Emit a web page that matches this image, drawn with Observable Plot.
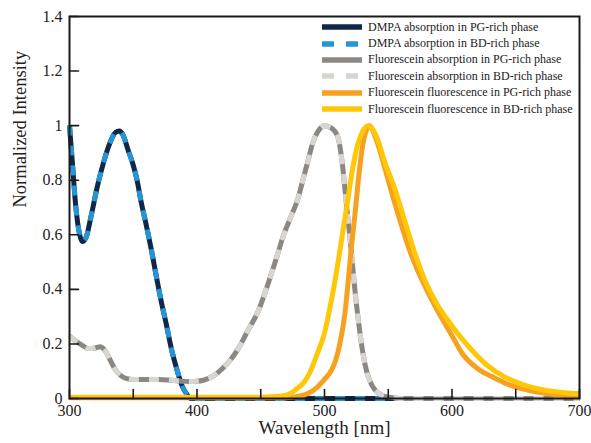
<!DOCTYPE html>
<html>
<head>
<meta charset="utf-8">
<script src="https://cdn.jsdelivr.net/npm/d3@7"></script>
<script src="https://cdn.jsdelivr.net/npm/@observablehq/plot@0.6"></script>
<style>
  html, body { margin: 0; padding: 0; background: #fff; }
  #wrap { position: relative; width: 591px; height: 443px; font-family: "Liberation Serif", "Times New Roman", serif; }
  #legend { position: absolute; left: 322px; top: 19px; font-size: 12px; color: #222; }
  .row { display: flex; align-items: center; height: 16.4px; white-space: nowrap; }
  .row svg { width: 40px; height: 8px; margin-right: 6px; }
</style>
</head>
<body>
<div id="wrap"><div id="legend"></div></div>
<script>
// ---- data ----
const dmpaWl  = [300,302,305,308,310,313,317,322,327,332,336,339,342,346,350,353,356,360,364,368,372,376,380,384,388,392,395,400,450,500,550,600,650,700];
const dmpaPG  = [1.00,0.88,0.70,0.60,0.575,0.59,0.67,0.78,0.87,0.94,0.975,0.98,0.965,0.91,0.855,0.80,0.725,0.64,0.55,0.45,0.355,0.27,0.18,0.11,0.05,0.015,0.0,0,0,0,0,0,0,0];
const dmpaBD  = dmpaPG.slice();

const flAbsWl = [300,305,310,315,320,324,328,332,336,340,345,350,360,370,380,390,395,400,405,410,415,420,426,432,440,448,455,462,468,474,479,483,487,491,495,500,504,508,511,514,517,521,524,527,530,533,537,541,546,552,560,600,650,700];
const flAbsPG = [0.23,0.21,0.195,0.183,0.185,0.19,0.175,0.14,0.105,0.085,0.073,0.07,0.07,0.07,0.067,0.063,0.062,0.063,0.067,0.076,0.09,0.11,0.14,0.18,0.25,0.32,0.41,0.51,0.60,0.67,0.73,0.80,0.87,0.94,0.98,1.0,0.995,0.98,0.95,0.86,0.72,0.54,0.39,0.27,0.17,0.10,0.05,0.025,0.01,0.004,0.0,0,0,0];
const flAbsBD = flAbsPG.slice();

const flEmWlPG = [300,470,480,487,494,500,505,508,512,516,519,521,524,527,530,533,535.5,538,542,547,553,560,567,573,580,586,593,600,608,620,633,645,660,680,700];
const flEmPG   = [0.003,0.003,0.008,0.018,0.04,0.07,0.10,0.13,0.20,0.31,0.45,0.55,0.68,0.82,0.93,0.985,1.0,0.98,0.93,0.85,0.75,0.64,0.54,0.47,0.40,0.345,0.286,0.23,0.165,0.11,0.076,0.05,0.03,0.015,0.008];
const flEmWlBD = [300,450,465,472,478,484,489,494,500,505,510,514,518,522,526,530,534,538,542,547,555,563,571,580,589,597,605,616,628,641,655,672,686,700];
const flEmBD   = [0.005,0.005,0.008,0.015,0.035,0.06,0.10,0.16,0.24,0.35,0.48,0.60,0.72,0.84,0.93,0.98,1.0,0.985,0.945,0.87,0.77,0.65,0.53,0.42,0.34,0.285,0.235,0.175,0.12,0.08,0.052,0.031,0.022,0.017];

const xTicks = [300,350,400,450,500,550,600,650,700];
const xLabels = [300,400,500,600,700];
const yTicks = [0,0.2,0.4,0.6,0.8,1.0,1.2,1.4];

const seriesNames = [
  "DMPA absorption in PG-rich phase",
  "DMPA absorption in BD-rich phase",
  "Fluorescein absorption in PG-rich phase",
  "Fluorescein absorption in BD-rich phase",
  "Fluorescein fluorescence in PG-rich phase",
  "Fluorescein fluorescence in BD-rich phase"
];
const seriesColors = ["#0f2748","#2496d6","#8b8784","#d9d5cf","#f6a11f","#ffc708"];
const seriesDash = [null,"10,10",null,"10,10",null,null];

// ---- build tables ----
const toRows = (xs, ys) => xs.map((x, i) => ({x, y: ys[i]}));
const series = [
  toRows(dmpaWl, dmpaPG),
  toRows(dmpaWl, dmpaBD),
  toRows(flAbsWl, flAbsPG),
  toRows(flAbsWl, flAbsBD),
  toRows(flEmWlPG, flEmPG),
  toRows(flEmWlBD, flEmBD)
];

const tickShape = {draw(context, l) { context.moveTo(0, 0); context.lineTo(0, -l); }};

const lineMarks = series.map((rows, i) => Plot.line(rows, {
  x: "x", y: "y", stroke: seriesColors[i], strokeWidth: 5,
  strokeDasharray: seriesDash[i] || undefined, curve: "monotone-x",
  strokeLinecap: "butt", strokeLinejoin: "round"
}));

const chart = Plot.plot({
  width: 591, height: 443,
  marginLeft: 69, marginRight: 12, marginTop: 16, marginBottom: 45,
  x: {domain: [300, 700]},
  y: {domain: [0, 1.4]},
  style: {fontFamily: "'Liberation Serif', 'Times New Roman', serif", color: "#222", background: "white", overflow: "visible"},
  marks: [
    ...lineMarks,
    Plot.frame({stroke: "#1a1a1a", strokeWidth: 2}),
    Plot.vector(xTicks, {x: d => d, frameAnchor: "bottom", length: 9, rotate: 0, anchor: "start", shape: tickShape, stroke: "#1a1a1a", strokeWidth: 1.6}),
    Plot.vector(yTicks, {y: d => d, frameAnchor: "left", length: 9, rotate: 90, anchor: "start", shape: tickShape, stroke: "#1a1a1a", strokeWidth: 1.6}),
    Plot.axisX(xLabels, {tickSize: 0, tickPadding: 6, fontSize: 16, label: null, tickFormat: d => String(d)}),
    Plot.axisY(yTicks, {tickSize: 0, tickPadding: 7, fontSize: 16, label: null, tickFormat: d => String(+d.toFixed(1))}),
    Plot.text(["Wavelength [nm]"], {frameAnchor: "bottom", dy: 35, fontSize: 19, fill: "#222"}),
    Plot.text(["Normalized Intensity"], {frameAnchor: "left", dx: -49, rotate: -90, fontSize: 18.5, fill: "#222"})
  ]
});
document.getElementById("wrap").insertBefore(chart, document.getElementById("legend"));

// ---- legend ----
const legend = document.getElementById("legend");
seriesNames.forEach((name, i) => {
  const row = document.createElement("div");
  row.className = "row";
  const dash = seriesDash[i] ? ' stroke-dasharray="12,12"' : "";
  row.innerHTML = `<svg viewBox="0 0 40 8"><line x1="0" y1="4" x2="40" y2="4" stroke="${seriesColors[i]}" stroke-width="5.5"${dash}/></svg><span>${name}</span>`;
  legend.appendChild(row);
});
</script>
</body>
</html>
